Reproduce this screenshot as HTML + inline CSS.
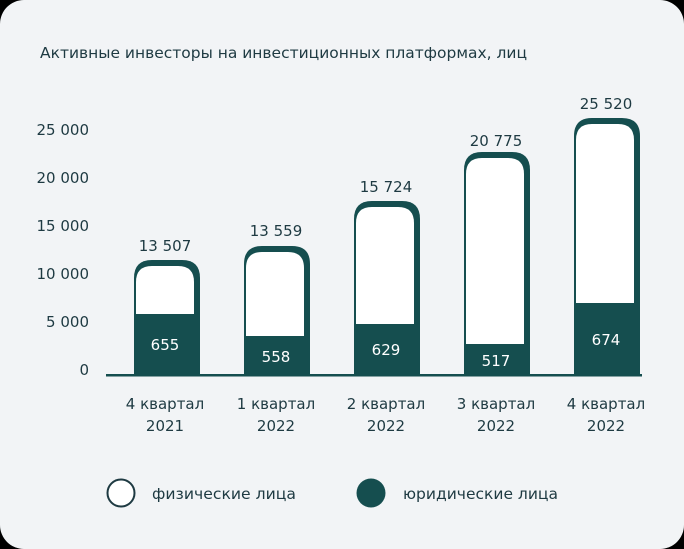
<!DOCTYPE html>
<html><head><meta charset="utf-8"><style>
html,body{margin:0;padding:0;background:#000;}
svg{display:block;}
text{font-family:"DejaVu Sans","Liberation Sans",sans-serif;fill:#1e3a42;}
</style></head><body>
<svg width="684" height="549" viewBox="0 0 684 549" xmlns="http://www.w3.org/2000/svg">
<rect x="0" y="0" width="684" height="549" rx="24" fill="#f2f4f6"/>
<text x="40" y="58" font-size="15" textLength="487" lengthAdjust="spacingAndGlyphs">Активные инвесторы на инвестиционных платформах, лиц</text>
<g font-size="15" text-anchor="end">
<text x="89" y="135">25 000</text>
<text x="89" y="183">20 000</text>
<text x="89" y="231">15 000</text>
<text x="89" y="279">10 000</text>
<text x="89" y="327">5 000</text>
<text x="89" y="375">0</text>
</g>
<g fill="#154e4f">
<path d="M134 375 V278 Q134 260 152 260 H182 Q200 260 200 278 V375 Z"/>
<path d="M244 375 V264 Q244 246 262 246 H292 Q310 246 310 264 V375 Z"/>
<path d="M354 375 V219 Q354 201 372 201 H402 Q420 201 420 219 V375 Z"/>
<path d="M464 375 V170 Q464 152 482 152 H512 Q530 152 530 170 V375 Z"/>
<path d="M574 375 V136 Q574 118 592 118 H622 Q640 118 640 136 V375 Z"/>
</g>
<g fill="#ffffff">
<path d="M136 314 V282 Q136 266 152 266 H178 Q194 266 194 282 V314 Z"/>
<path d="M246 336 V268 Q246 252 262 252 H288 Q304 252 304 268 V336 Z"/>
<path d="M356 324 V223 Q356 207 372 207 H398 Q414 207 414 223 V324 Z"/>
<path d="M466 344 V174 Q466 158 482 158 H508 Q524 158 524 174 V344 Z"/>
<path d="M576 303 V140 Q576 124 592 124 H618 Q634 124 634 140 V303 Z"/>
</g>
<rect x="106" y="374" width="536" height="2.5" fill="#154e4f"/>
<g font-size="15" text-anchor="middle">
<text x="165" y="251">13 507</text>
<text x="276" y="236">13 559</text>
<text x="386" y="192">15 724</text>
<text x="496" y="146">20 775</text>
<text x="606" y="109">25 520</text>
</g>
<g font-size="15" text-anchor="middle">
<text x="165" y="350" style="fill:#fff">655</text>
<text x="276" y="362" style="fill:#fff">558</text>
<text x="386" y="355" style="fill:#fff">629</text>
<text x="496" y="366" style="fill:#fff">517</text>
<text x="606" y="345" style="fill:#fff">674</text>
</g>
<g font-size="15" text-anchor="middle">
<text x="165" y="409">4 квартал</text><text x="165" y="431">2021</text>
<text x="276" y="409">1 квартал</text><text x="276" y="431">2022</text>
<text x="386" y="409">2 квартал</text><text x="386" y="431">2022</text>
<text x="496" y="409">3 квартал</text><text x="496" y="431">2022</text>
<text x="606" y="409">4 квартал</text><text x="606" y="431">2022</text>
</g>
<circle cx="121" cy="493" r="13.5" fill="#fff" stroke="#1e3a42" stroke-width="2"/>
<circle cx="371" cy="493" r="14.5" fill="#154e4f"/>
<text x="152" y="499" font-size="15" textLength="144" lengthAdjust="spacingAndGlyphs">физические лица</text>
<text x="403" y="499" font-size="15" textLength="155" lengthAdjust="spacingAndGlyphs">юридические лица</text>
</svg>
</body></html>
